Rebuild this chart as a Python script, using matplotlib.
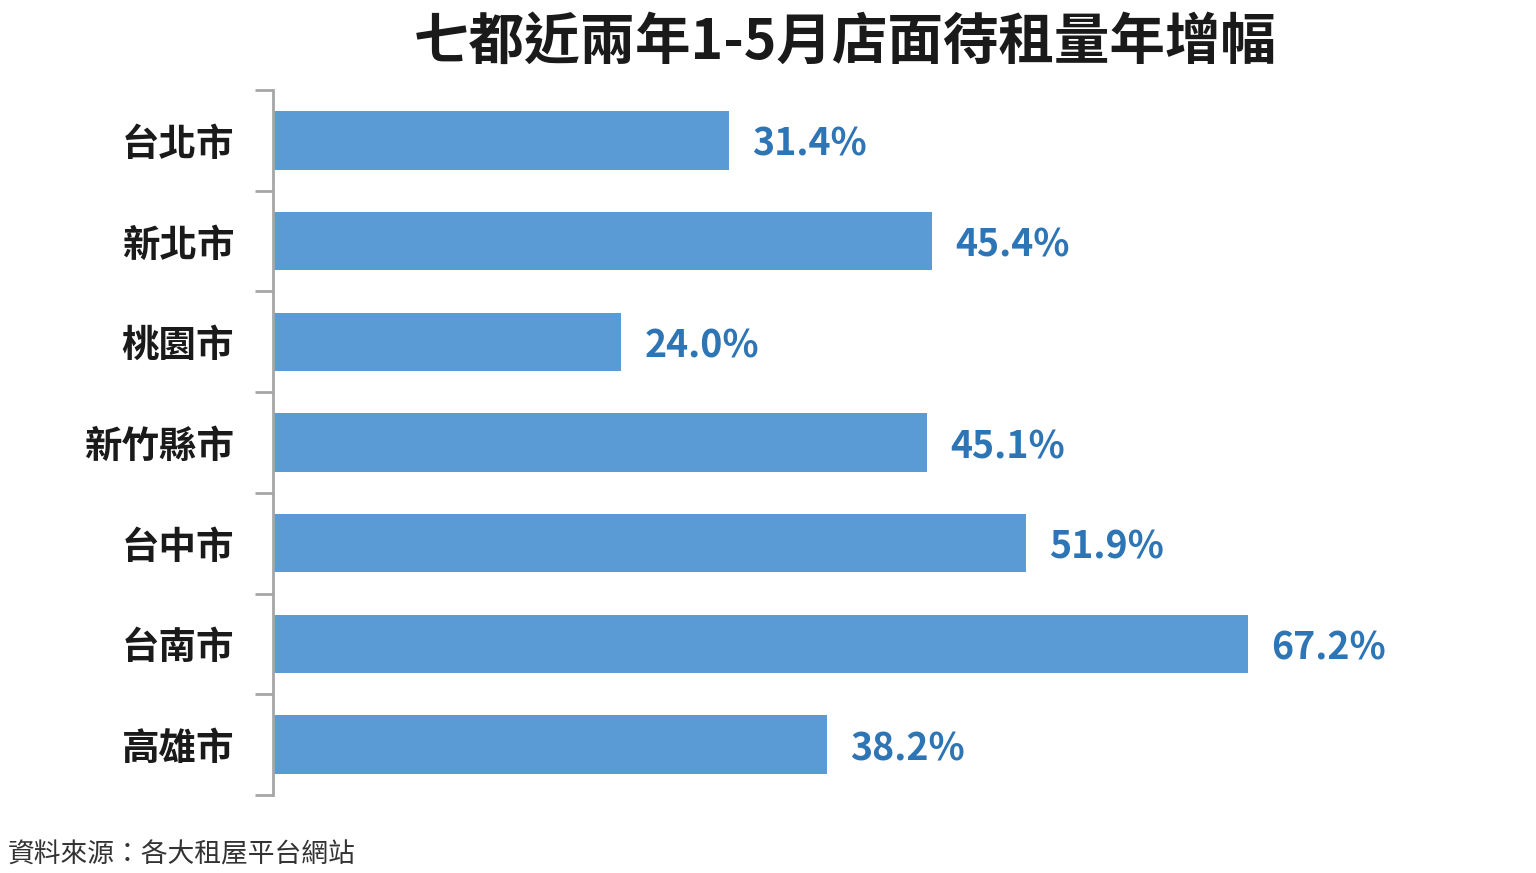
import numpy as np
import matplotlib.pyplot as plt

plt.rcParams['font.family'] = ['Noto Sans CJK TC', 'DejaVu Sans']

# data
cities = ["台北市", "新北市", "桃園市", "新竹縣市", "台中市", "台南市", "高雄市"]
growth = [31.4, 45.4, 24.0, 45.1, 51.9, 67.2, 38.2]

title = "七都近兩年1-5月店面待租量年增幅"
source = "資料來源：各大租屋平台網站"

bar_color = "#5B9BD5"
label_color = "#2E75B6"
axis_color = "#A6A6A6"

fig = plt.figure(figsize=(15.36, 8.73), dpi=100)
ax = fig.add_axes([273 / 1536, 78 / 873, (1500 - 273) / 1536, 705 / 873])

y = np.arange(len(cities))
ax.barh(y, growth, height=0.58, color=bar_color)

xmax = (1500 - 273) / 14.51
ax.set_xlim(0, xmax)
ax.set_ylim(len(cities) - 0.5, -0.5)

# value labels
for yi, v in zip(y, growth):
    ax.text(v + 1.6, yi + 0.04, f"{v:.1f}%", va="center", ha="left",
            fontsize=27, fontweight="bold", color=label_color)

# category labels
ax.set_yticks(y)
ax.set_yticklabels(cities, fontsize=27, fontweight="bold", color="#1a1a1a")
ax.tick_params(axis="y", which="major", length=0, pad=28)
ax.set_yticks(np.arange(-0.5, len(cities)), minor=True)
ax.tick_params(axis="y", which="minor", length=13, width=2, color=axis_color)
ax.set_xticks([])

for s in ["top", "right", "bottom"]:
    ax.spines[s].set_visible(False)
ax.spines["left"].set_color(axis_color)
ax.spines["left"].set_linewidth(2)

fig.text(845 / 1536, 1 - 43 / 873, title, ha="center", va="center",
         fontsize=40, fontweight="bold", color="#1a1a1a")
fig.text(8 / 1536, 1 - 855 / 873, source, ha="left", va="center",
         fontsize=19.3, color="#333333")

fig.savefig("out.png", dpi=100, facecolor="white")
